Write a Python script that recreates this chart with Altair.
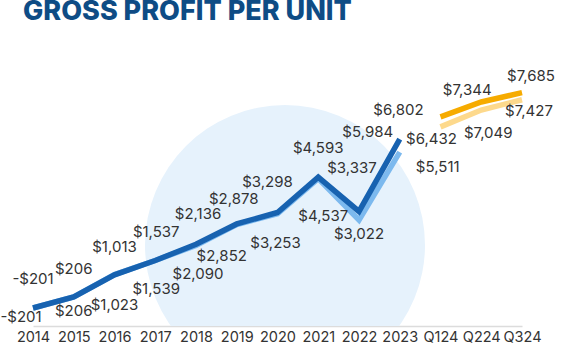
import altair as alt
import pandas as pd

categories = ["2014", "2015", "2016", "2017", "2018", "2019", "2020", "2021", "2022", "2023", "Q124", "Q224", "Q324"]
annual_cats = categories[:10]
quarter_cats = categories[10:]

blue_dark = [-201, 206, 1013, 1537, 2136, 2878, 3298, 4593, 3337, 5984]
blue_light = [-201, 206, 1023, 1539, 2090, 2852, 3253, 4537, 3022, 5511]
orange_dark = [6802, 7344, 7685]
orange_light = [6432, 7049, 7427]

# label nudges (pixels) - styling only
nudge = {
    "blue_dark": [(0, -29), (0, -28), (0, -28), (1, -29), (2, -30), (-3, -25), (-10, -30), (0, -29), (-7, -43), (-32, -7)],
    "blue_light": [(-12, 9), (0, 14), (0, 30), (1, 29), (2, 29), (-15, 31), (-2, 29), (5, 37), (0, 14), (38, 15)],
    "orange_dark": [(-42, -7), (-14, -12), (9, -17)],
    "orange_light": [(-9, 12), (7, 23), (7, 11)],
}

series = {
    "blue_light": (annual_cats, blue_light, "#7cb9ee"),
    "blue_dark": (annual_cats, blue_dark, "#1762b0"),
    "orange_light": (quarter_cats, orange_light, "#fdd98c"),
    "orange_dark": (quarter_cats, orange_dark, "#f6ab00"),
}

def fmt(v):
    return ("-$" if v < 0 else "$") + f"{abs(v):,}"

rows = []
for name, (cats, vals, col) in series.items():
    for i, (c, v) in enumerate(zip(cats, vals)):
        rows.append({"cat": c, "value": v, "series": name, "label": fmt(v), "idx": i})
df = pd.DataFrame(rows)

x_enc = alt.X("cat:N", sort=categories,
              scale=alt.Scale(type="point", domain=categories, range=[16, 505], padding=0),
              axis=alt.Axis(title=None, labelAngle=0, ticks=False, domainColor="#dcdcdc", domainWidth=1.5,
                            labelFontSize=14.5, labelFont="Inter", labelColor="#333333", labelPadding=4,
                            grid=False))
y_scale = alt.Scale(domain=[-861, 9615], nice=False, zero=False)
y_enc = alt.Y("value:Q", scale=y_scale, axis=None)

circle_df = pd.DataFrame({"k": [1]})
circle = alt.Chart(circle_df).mark_circle(clip=True, color="#e6f2fc", opacity=1, size=78400).encode(
    x=alt.value(268), y=alt.value(205)
)

title = alt.Chart(circle_df).mark_text(
    text="GROSS PROFIT PER UNIT", font="Inter", fontSize=27, fontWeight=800, color="#0e4c85",
    align="left", baseline="alphabetic"
).encode(x=alt.value(6), y=alt.value(-20))

layers = [circle, title]
for name, (cats, vals, col) in series.items():
    layers.append(
        alt.Chart(df).transform_filter(alt.datum.series == name).mark_line(
            color=col, strokeWidth=5.5, strokeCap="butt", strokeJoin="miter"
        ).encode(x=x_enc, y=y_enc)
    )

for name, (cats, vals, col) in series.items():
    for i in range(len(vals)):
        dx, dy = nudge[name][i]
        layers.append(
            alt.Chart(df).transform_filter(
                (alt.datum.series == name) & (alt.datum.idx == i)
            ).mark_text(font="Inter", fontSize=15, color="#333333", baseline="middle", align="center",
                        dx=dx, dy=dy).encode(x=x_enc, y=y_enc, text="label:N")
        )

chart = alt.layer(*layers).properties(
    width=506, height=286,
    autosize=alt.AutoSizeParams(type="none"),
    padding={"left": 17, "top": 40, "right": 62, "bottom": 26},
).configure_view(stroke=None)

chart.save("out.html", embed_options={"renderer": "svg", "actions": False})
